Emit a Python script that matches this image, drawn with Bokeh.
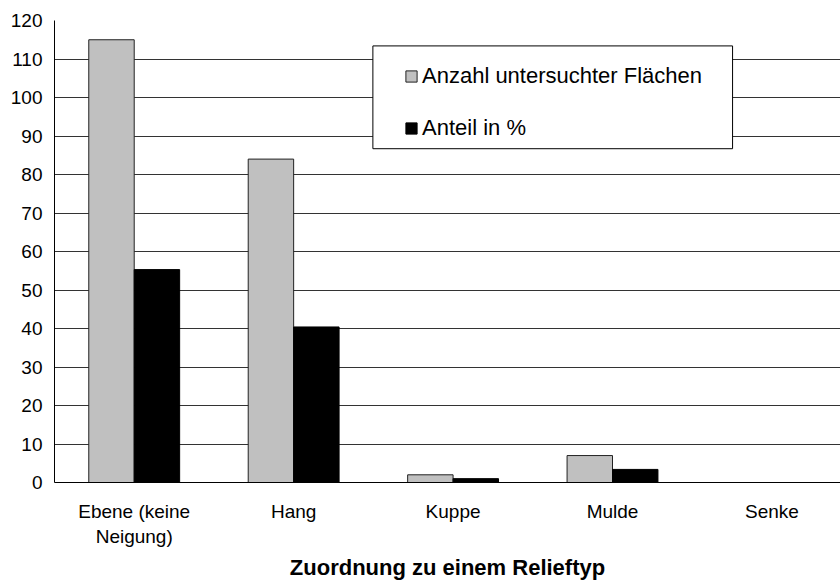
from bokeh.plotting import figure
from bokeh.models import (Range1d, FixedTicker, Legend, LegendItem, BoxAnnotation,
                          ColumnDataSource)
from bokeh.embed import file_html
from bokeh.resources import INLINE

# ---- data ----
categories = ["Ebene (keine\nNeigung)", "Hang", "Kuppe", "Mulde", "Senke"]
anzahl = [115, 84, 2, 7, 0]
anteil = [55.3, 40.4, 1.0, 3.4, 0.0]
series_names = ["Anzahl untersuchter Flächen", "Anteil in %"]
y_ticks = list(range(0, 121, 10))

FONT = "Liberation Sans"

centers = [i + 0.5 for i in range(len(categories))]
bar_w = 0.285
src = ColumnDataSource(dict(
    x1=[c - bar_w / 2 for c in centers],
    x2=[c + bar_w / 2 for c in centers],
    a=anzahl, b=anteil))

p = figure(width=840, height=583, output_backend="svg", toolbar_location=None,
           x_range=Range1d(0, 4.93), y_range=Range1d(0, 120),
           min_border_left=54, min_border_right=0, min_border_top=20,
           min_border_bottom=101)
p.outline_line_color = None
p.background_fill_color = "white"
p.border_fill_color = "white"

r1 = p.vbar(x="x1", top="a", width=bar_w, source=src, fill_color="#c0c0c0",
            line_color="#222222", line_width=1)
r2 = p.vbar(x="x2", top="b", width=bar_w, source=src, fill_color="#000000",
            line_color="#000000", line_width=1)

# axes
p.xaxis.ticker = FixedTicker(ticks=centers)
p.xaxis.major_label_overrides = {c: lab for c, lab in zip(centers, categories)}
p.xaxis.major_tick_line_color = None
p.xaxis.minor_tick_line_color = None
p.xaxis.axis_line_color = "#000000"
p.xaxis.major_label_text_font = FONT
p.xaxis.major_label_text_font_size = "19px"
p.xaxis.major_label_text_color = "#000000"
p.xaxis.major_label_standoff = 12
p.xaxis.axis_label = "Zuordnung zu einem Relieftyp"
p.xaxis.axis_label_text_font = FONT
p.xaxis.axis_label_text_font_size = "22px"
p.xaxis.axis_label_text_font_style = "bold"
p.xaxis.axis_label_text_color = "#000000"
p.xaxis.axis_label_standoff = 5

p.yaxis.ticker = FixedTicker(ticks=y_ticks)
p.yaxis.major_tick_line_color = None
p.yaxis.minor_tick_line_color = None
p.yaxis.major_tick_out = 0
p.yaxis.axis_line_color = "#000000"
p.yaxis.major_label_text_font = FONT
p.yaxis.major_label_text_font_size = "19px"
p.yaxis.major_label_text_color = "#000000"
p.yaxis.major_label_standoff = 12

p.xgrid.grid_line_color = None
p.ygrid.ticker = FixedTicker(ticks=y_ticks)
p.ygrid.grid_line_color = "#333333"
p.ygrid.grid_line_width = 1

# legend box
box = BoxAnnotation(left=1.997, right=4.253, bottom=86.7, top=113.4,
                    fill_color="white", fill_alpha=1, line_color="#000000",
                    line_width=1, line_alpha=1)
p.add_layout(box)

legend = Legend(items=[LegendItem(label=series_names[0], renderers=[r1]),
                       LegendItem(label=series_names[1], renderers=[r2])],
                location=(340, 331), orientation="vertical")
legend.label_text_font = FONT
legend.label_text_font_size = "22px"
legend.label_text_color = "#000000"
legend.glyph_width = 14
legend.glyph_height = 14
legend.label_height = 24
legend.label_standoff = 4
legend.spacing = 26
legend.padding = 10
legend.margin = 0
legend.border_line_alpha = 0
legend.background_fill_alpha = 0
p.add_layout(legend, "center")

open("out.html", "w").write(file_html(p, INLINE))
